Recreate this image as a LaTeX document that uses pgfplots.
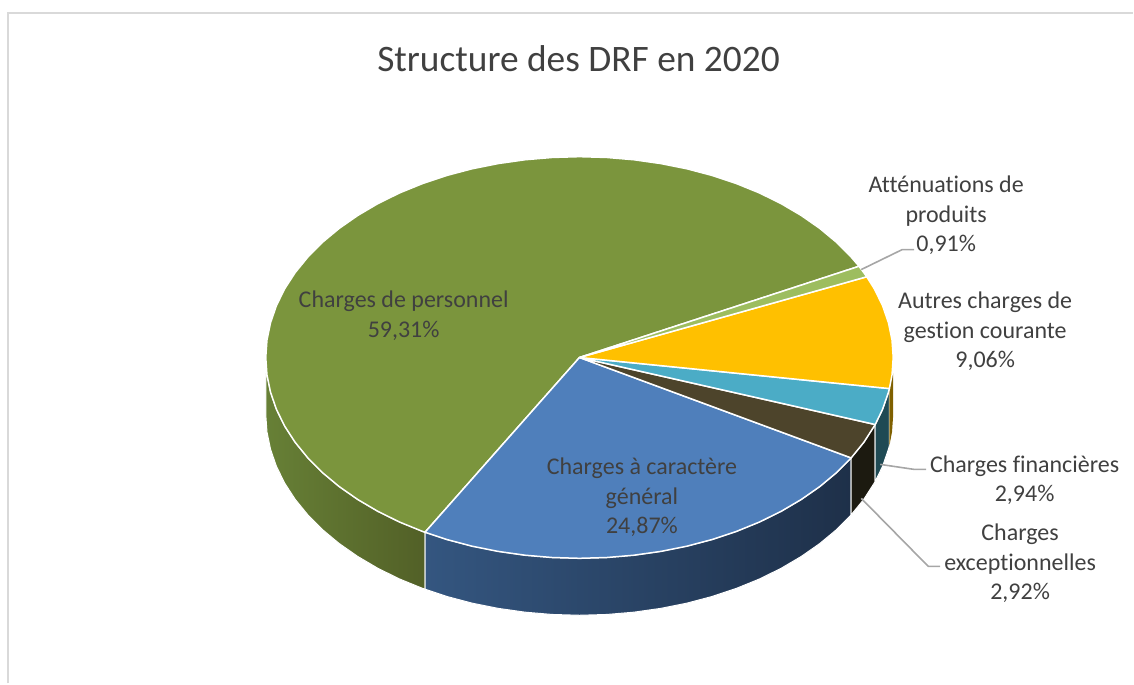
\documentclass[border=0pt]{standalone}
\usepackage{fontspec}
\setmainfont[Ligatures=CommonOff]{Carlito}
\usepackage{pgfplots}
\pgfplotsset{compat=1.18}
\definecolor{cadre}{HTML}{D9D9D9}
\definecolor{texte}{HTML}{404040}
\definecolor{fil}{HTML}{A6A6A6}
\definecolor{vert}{HTML}{7B953D}
\definecolor{vertclair}{HTML}{9DBD5F}
\definecolor{bleu}{HTML}{4F7FBB}
\definecolor{jaune}{HTML}{FFC000}
\definecolor{turquoise}{HTML}{4BACC6}
\definecolor{brun}{HTML}{4D442B}
\definecolor{flancvertA}{HTML}{678036}
\definecolor{flancvertB}{HTML}{526027}
\definecolor{flancbleuA}{HTML}{345680}
\definecolor{flancbleuB}{HTML}{1E3049}
\definecolor{flancbrun}{HTML}{1C1A10}
\definecolor{flancturq}{HTML}{1F4A54}
\definecolor{flancjaune}{HTML}{7F6000}
\newcommand{\etiquette}{\fontsize{12}{14.75}\selectfont}
\tikzset{
  tranche/.style={draw=white, line width=0.75pt, line join=round},
  flanc/.style={draw=white, line width=0.5pt, line join=round},
  renvoi/.style={draw=fil, line width=0.8pt},
  lbl/.style={align=center, text=texte, inner sep=0pt, font=\etiquette},
}
\begin{document}
\begin{tikzpicture}
\begin{axis}[
  scale only axis, width=567pt, height=342pt,
  xmin=-1, xmax=1133, ymin=-0.8, ymax=683.2, y dir=reverse,
  hide axis, clip=false,
]
% cadre
\addplot[cadre, line width=1pt] coordinates {(7,683.2) (7,12.2) (1133,12.2)};

% flancs
\addplot[flanc, shade, left color=flancvertA, right color=flancvertB] coordinates {
  (265,373) (266.2,374.5) (269.8,391.9) (275.7,409) (283.9,425.7) (294.4,441.9) (307.1,457.5)
  (321.8,472.3) (338.5,486.2) (357,499.1) (377.2,511) (398.9,521.7) (422,531.1) (424.4,531.9)
  (424.4,588.9) (422,588.1) (398.9,578.7) (377.2,568) (357,556.1) (338.5,543.2) (321.8,529.3)
  (307.1,514.5) (294.4,498.9) (283.9,482.7) (275.7,466) (269.8,448.9) (266.2,431.5) (265,414) (265,373)};
\addplot[flanc, shade, left color=flancbleuA, middle color=flancbleuB, right color=flancbleuB] coordinates {
  (424.4,531.9) (446.3,539.2) (471.6,545.9) (497.7,551.1) (524.5,554.9) (551.6,557.2) (579,558)
  (606.4,557.2) (633.5,554.9) (660.3,551.1) (686.4,545.9) (711.7,539.2) (736,531.1) (759.1,521.7)
  (780.8,511) (801,499.1) (819.5,486.2) (836.2,472.3) (850.9,457.5)
  (850.9,514.5) (836.2,529.3) (819.5,543.2) (801,556.1) (780.8,568) (759.1,578.7) (736,588.1)
  (711.7,596.2) (686.4,602.9) (660.3,608.1) (633.5,611.9) (606.4,614.2) (579,615) (551.6,614.2)
  (524.5,611.9) (497.7,608.1) (471.6,602.9) (446.3,596.2) (424.4,588.9) (424.4,531.9)};
\addplot[flanc, fill=flancbrun] coordinates {
  (850.9,457.5) (863.6,441.9) (875,424.1) (875,481.1) (863.6,498.9) (850.9,514.5) (850.9,457.5)};
\addplot[flanc, fill=flancturq] coordinates {
  (875,424.1) (882.3,409) (888.2,391.9) (889.2,388.1) (889.2,445.1) (888.2,448.9) (882.3,466) (875,481.1) (875,424.1)};
\addplot[draw=none, fill=flancjaune] coordinates {
  (889.2,388.1) (891.8,374.5) (893,373) (893,414) (891.8,431.5) (889.2,445.1) (889.2,388.1)};

% dessus
\addplot[tranche, fill=vert] coordinates {
  (579,357) (858.8,265.7) (850.9,256.5) (836.2,241.7) (819.5,227.8) (801,214.9) (780.8,203)
  (759.1,192.3) (736,182.9) (711.7,174.8) (686.4,168.1) (660.3,162.9) (633.5,159.1) (606.4,156.8)
  (579,156) (551.6,156.8) (524.5,159.1) (497.7,162.9) (471.6,168.1) (446.3,174.8) (422,182.9)
  (398.9,192.3) (377.2,203) (357,214.9) (338.5,227.8) (321.8,241.7) (307.1,256.5) (294.4,272.1)
  (283.9,288.3) (275.7,305) (269.8,322.1) (266.2,339.5) (265,357) (266.2,374.5) (269.8,391.9)
  (275.7,409) (283.9,425.7) (294.4,441.9) (307.1,457.5) (321.8,472.3) (338.5,486.2) (357,499.1)
  (377.2,511) (398.9,521.7) (422,531.1) (424.4,531.9) (579,357)};
\addplot[tranche, fill=bleu] coordinates {
  (579,357) (424.4,531.9) (446.3,539.2) (471.6,545.9) (497.7,551.1) (524.5,554.9) (551.6,557.2)
  (579,558) (606.4,557.2) (633.5,554.9) (660.3,551.1) (686.4,545.9) (711.7,539.2) (736,531.1)
  (759.1,521.7) (780.8,511) (801,499.1) (819.5,486.2) (836.2,472.3) (850.9,457.5) (579,357)};
\addplot[tranche, fill=brun] coordinates {(579,357) (850.9,457.5) (863.6,441.9) (875,424.1) (579,357)};
\addplot[tranche, fill=turquoise] coordinates {(579,357) (875,424.1) (882.3,409) (888.2,391.9) (889.2,388.1) (579,357)};
\addplot[tranche, fill=jaune] coordinates {
  (579,357) (889.2,388.1) (891.8,374.5) (893,357) (891.8,339.5) (888.2,322.1) (882.3,305)
  (874.1,288.3) (866.5,276.2) (579,357)};
\addplot[tranche, fill=vertclair] coordinates {(579,357) (866.5,276.2) (863.6,272.1) (858.8,265.7) (579,357)};

% traits de renvoi
\addplot[renvoi] coordinates {(861,269) (902,249) (914,249)};
\addplot[renvoi] coordinates {(880,464) (914,469) (926,469)};
\addplot[renvoi] coordinates {(861,498) (928,566) (940,566)};

% textes
\node[align=center, text=texte, inner sep=0pt, font=\fontsize{18.7}{22}\selectfont] at (axis cs:578,57.5) {Structure des DRF en 2020};
\node[lbl] at (axis cs:946,215) {Atténuations de\\produits\\0,91\%};
\node[lbl] at (axis cs:985,331) {Autres charges de\\gestion courante\\9,06\%};
\node[lbl] at (axis cs:1024.5,480) {Charges financières\\2,94\%};
\node[lbl] at (axis cs:1020,563) {Charges\\exceptionnelles\\2,92\%};
\node[lbl] at (axis cs:403,315) {Charges de personnel\\59,31\%};
\node[lbl] at (axis cs:641.5,497) {Charges à caractère\\général\\24,87\%};

\path (axis cs:-1,-0.8) rectangle (axis cs:1133,683.2);
\end{axis}
\end{tikzpicture}
\end{document}
